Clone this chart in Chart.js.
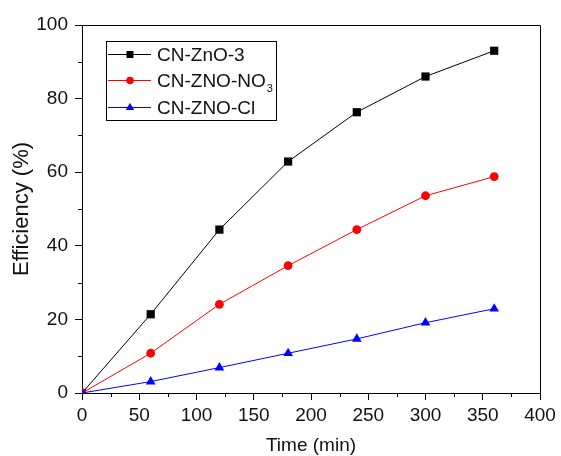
<!DOCTYPE html>
<html>
<head>
<meta charset="utf-8">
<script src="https://cdn.jsdelivr.net/npm/chart.js@4"></script>
<style>
  html, body { margin: 0; padding: 0; background: #fff; }
  #wrap { width: 561px; height: 456px; }
</style>
</head>
<body>
<div id="wrap"><canvas id="effChart" width="561" height="456"></canvas></div>
<script>
// data
var times = [0, 60, 120, 180, 240, 300, 360];
var seriesNames = ['CN-ZnO-3', 'CN-ZNO-NO\u2083', 'CN-ZNO-Cl'];
var zno3 = [0, 21.4, 44.4, 62.9, 76.3, 86.0, 93.0];
var znoNO3 = [0, 10.8, 24.1, 34.6, 44.4, 53.6, 58.8];
var znoCl = [0, 3.1, 6.9, 10.8, 14.7, 19.1, 22.9];
var xTicks = [0, 50, 100, 150, 200, 250, 300, 350, 400];
var yTicks = [0, 20, 40, 60, 80, 100];

var FONT = "'Liberation Sans', Arial, sans-serif";

function pts(vals) {
    return vals.map(function (v, i) { return { x: times[i], y: v }; });
}

// box border + minor ticks
var frame = {
    id: 'frame',
    afterDraw: function (chart) {
        var c = chart.ctx, a = chart.chartArea;
        var xs = chart.scales.x, ys = chart.scales.y;
        c.save();
        c.strokeStyle = '#000';
        c.lineWidth = 1;
        c.beginPath();
        c.moveTo(a.left, a.top + 0.5);
        c.lineTo(a.right + 0.5, a.top + 0.5);
        c.lineTo(a.right + 0.5, a.bottom);
        c.stroke();
        c.beginPath();
        for (var i = 0; i < xTicks.length - 1; i++) {
            var px = Math.round(xs.getPixelForValue((xTicks[i] + xTicks[i + 1]) / 2)) + 0.5;
            c.moveTo(px, a.bottom);
            c.lineTo(px, a.bottom + 4);
        }
        for (var j = 0; j < yTicks.length - 1; j++) {
            var py = Math.round(ys.getPixelForValue((yTicks[j] + yTicks[j + 1]) / 2)) + 0.5;
            c.moveTo(a.left, py);
            c.lineTo(a.left - 4, py);
        }
        c.stroke();
        c.restore();
    }
};

// legend box inside the plot, with subscript support
var boxLegend = {
    id: 'boxLegend',
    afterDraw: function (chart) {
        var c = chart.ctx;
        var rows = [54, 80, 107];
        c.save();
        c.strokeStyle = '#000';
        c.lineWidth = 1;
        c.strokeRect(106.5, 41.5, 170, 79);
        chart.data.datasets.forEach(function (ds, i) {
            var y = rows[i];
            c.strokeStyle = ds.borderColor;
            c.lineWidth = 1;
            c.beginPath();
            c.moveTo(108, y + 0.5);
            c.lineTo(151, y + 0.5);
            c.stroke();
            c.fillStyle = ds.pointBackgroundColor;
            c.strokeStyle = ds.pointBorderColor;
            Chart.helpers.drawPoint(c, {
                pointStyle: ds.pointStyle,
                radius: ds.pointRadius * 0.85,
                borderWidth: 0,
                rotation: 0
            }, 130, y + 0.5);
            c.fillStyle = '#111';
            c.textBaseline = 'alphabetic';
            var tx = 157, base = y + 7;
            var m = ds.label.match(/^(.*?)([\u2080-\u2089]*)$/);
            c.font = '19px ' + FONT;
            c.fillText(m[1], tx, base);
            if (m[2]) {
                var w = c.measureText(m[1]).width;
                var sub = m[2].split('').map(function (ch) {
                    return String.fromCharCode(ch.charCodeAt(0) - 0x2080 + 48);
                }).join('');
                c.font = '11px ' + FONT;
                c.fillText(sub, tx + w + 1, base + 5);
            }
        });
        c.restore();
    }
};

window.addEventListener('load', function () {
    var ctx = document.getElementById('effChart').getContext('2d');
    var colors = ['#000000', '#ff0000', '#0000ff'];
    var styles = ['rect', 'circle', 'triangle'];
    var radii = [5.8, 4.4, 5.6];
    var vals = [zno3, znoNO3, znoCl];

    new Chart(ctx, {
        type: 'line',
        data: {
            datasets: vals.map(function (v, i) {
                return {
                    label: seriesNames[i],
                    data: pts(v),
                    borderColor: colors[i],
                    backgroundColor: colors[i],
                    pointBackgroundColor: colors[i],
                    pointBorderColor: colors[i],
                    pointBorderWidth: 0,
                    pointStyle: styles[i],
                    pointRadius: radii[i],
                    borderWidth: 1,
                    tension: 0,
                    order: 2 - i
                };
            })
        },
        options: {
            responsive: false,
            animation: false,
            events: [],
            layout: { padding: { left: 0, top: 25, right: 21, bottom: 0 } },
            plugins: { legend: { display: false }, tooltip: { enabled: false } },
            scales: {
                x: {
                    type: 'linear',
                    min: 0, max: 400,
                    afterFit: function (s) { s.height = 63; },
                    afterBuildTicks: function (s) { s.ticks = xTicks.map(function (v) { return { value: v }; }); },
                    grid: { drawOnChartArea: false, drawTicks: true, tickLength: 7, tickColor: '#000' },
                    border: { display: true, color: '#000', width: 1 },
                    ticks: { color: '#111', font: { family: FONT, size: 19 }, padding: 4, maxRotation: 0 },
                    title: { display: true, text: 'Time (min)', color: '#111', font: { family: FONT, size: 19 }, padding: { top: 0, bottom: -1 } }
                },
                y: {
                    type: 'linear',
                    min: 0, max: 100,
                    afterFit: function (s) { s.width = 82; },
                    afterBuildTicks: function (s) { s.ticks = yTicks.map(function (v) { return { value: v }; }); },
                    grid: { drawOnChartArea: false, drawTicks: true, tickLength: 7, tickColor: '#000' },
                    border: { display: true, color: '#000', width: 1 },
                    ticks: { color: '#111', font: { family: FONT, size: 19 }, padding: 7 },
                    title: { display: true, text: 'Efficiency (%)', color: '#111', font: { family: FONT, size: 22 }, padding: { top: 9, bottom: 0 } }
                }
            }
        },
        plugins: [frame, boxLegend]
    });
});
</script>
</body>
</html>
